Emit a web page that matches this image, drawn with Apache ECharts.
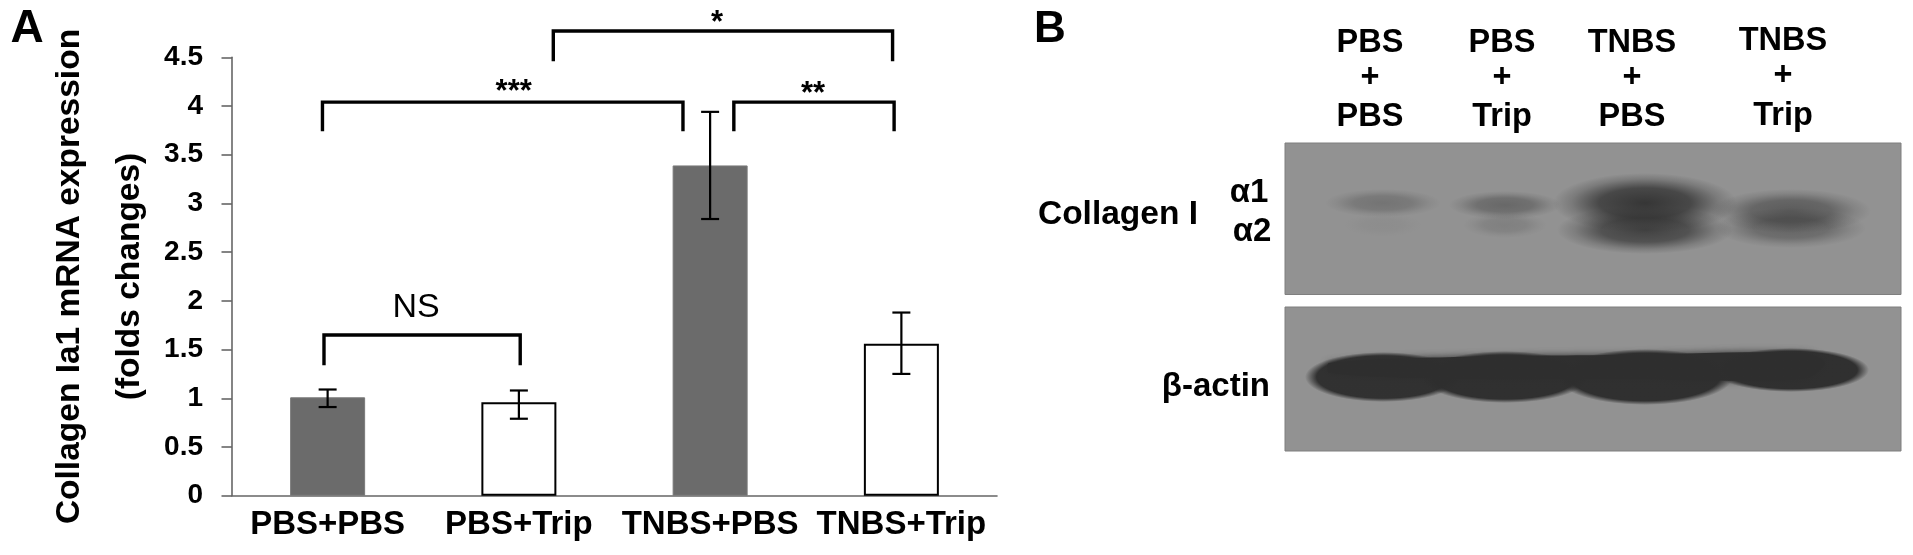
<!DOCTYPE html>
<html>
<head>
<meta charset="utf-8">
<style>
  html, body { margin: 0; padding: 0; background: #fff; }
  #chart { width: 1913px; height: 555px; }
</style>
<script src="https://cdn.jsdelivr.net/npm/echarts@6/dist/echarts.min.js"></script>
</head>
<body>
<div id="chart"></div>
<script>
// Panel A data
const categories = ['PBS+PBS', 'PBS+Trip', 'TNBS+PBS', 'TNBS+Trip'];
const foldChange = [1.01, 0.96, 3.39, 1.56];
const errorHigh = [1.09, 1.08, 3.94, 1.88];
const errorLow = [0.91, 0.79, 2.84, 1.25];
const barFills = ['#6b6b6b', '#ffffff', '#6b6b6b', '#ffffff'];

// Significance brackets, x in category-band units, y in fold change
const bracketLabels = ['NS', '***', '**', '*'];
const bracketStart = [0.481, 0.473, 2.624, 1.68];
const bracketEnd = [1.507, 2.358, 3.462, 3.454];
const bracketTop = [1.65, 4.04, 4.04, 4.77];
const bracketFoot = [1.34, 3.74, 3.74, 4.46];

// Panel B band strength, one per lane
const alpha1Strength = [0.3, 0.42, 0.92, 0.55];
const alpha2Strength = [0.05, 0.18, 0.8, 0.45];
const actinStrength = [0.97, 0.98, 0.98, 0.98];

const laneNames = [['PBS', '+', 'PBS'], ['PBS', '+', 'Trip'], ['TNBS', '+', 'PBS'], ['TNBS', '+', 'Trip']];

const FONT = '"Liberation Sans", Arial, sans-serif';
const chart = echarts.init(document.getElementById('chart'));

function txt(text, x, y, size, align, weight) {
  return {
    type: 'text', x, y,
    style: { text, fill: '#000', fontFamily: FONT, fontSize: size, fontWeight: weight || 'bold', align: align || 'center', verticalAlign: 'middle' }
  };
}

// Error bars sit on the category axis
function renderError(params, api) {
  const i = api.value(0);
  const hi = api.coord([i, api.value(1)]);
  const lo = api.coord([i, api.value(2)]);
  const style = { stroke: '#000', lineWidth: 2.2, fill: 'none' };
  return {
    type: 'group',
    children: [
      { type: 'line', shape: { x1: hi[0], y1: hi[1], x2: lo[0], y2: lo[1] }, style },
      { type: 'line', shape: { x1: hi[0] - 9, y1: hi[1], x2: hi[0] + 9, y2: hi[1] }, style },
      { type: 'line', shape: { x1: lo[0] - 9, y1: lo[1], x2: lo[0] + 9, y2: lo[1] }, style }
    ]
  };
}

function renderBracket(params, api) {
  const a = api.coord([api.value(0), api.value(3)]);
  const b = api.coord([api.value(0), api.value(2)]);
  const c = api.coord([api.value(1), api.value(2)]);
  const d = api.coord([api.value(1), api.value(3)]);
  return {
    type: 'polyline',
    shape: { points: [a, b, c, d] },
    style: { stroke: '#000', lineWidth: 3.4, fill: 'none', lineJoin: 'miter' }
  };
}

// Blot panels: x/y run along the membrane in the hidden axes of the second grid
const blotAreas = [[0, 616, 308, 156.5], [0, 616, 144, 0]];
const laneX = [98, 220, 360, 506];
const alpha1Shape = [[58, 14, 248], [56, 14, 246], [92, 30, 248], [80, 22, 240]];
const alpha2Shape = [[40, 12, 226], [42, 13, 226], [88, 24, 221], [75, 20, 223]];
const actinShape = [[78, 25, 74], [84, 26, 74], [88, 28, 74], [78, 22, 81]];
// top edge of the actin band, which runs flat across the lanes
const actinTopEdge = [[44, 88], [170, 94], [330, 96], [520, 98], [540, 88], [520, 72], [330, 72], [170, 72], [44, 78]];

function renderBlot(params, api) {
  const p0 = api.coord([api.value(0), api.value(2)]);
  const p1 = api.coord([api.value(1), api.value(3)]);
  return {
    type: 'rect',
    shape: { x: p0[0], y: p0[1], width: p1[0] - p0[0], height: p1[1] - p0[1] },
    style: { fill: '#929292', stroke: '#7f7f7f', lineWidth: 1 }
  };
}

function bandColor(a) {
  return 'rgba(46,46,46,' + a + ')';
}

function renderBand(params, api) {
  const c = api.coord([api.value(0), api.value(1)]);
  const a = api.value(4);
  // actin bands are solid with a short soft edge, collagen bands fade out gradually
  const stops = api.value(5)
    ? [{ offset: 0, color: bandColor(a) }, { offset: 0.85, color: bandColor(a) }, { offset: 1, color: bandColor(0) }]
    : [{ offset: 0, color: bandColor(a) }, { offset: 0.5, color: bandColor(a * 0.8) }, { offset: 0.8, color: bandColor(a * 0.25) }, { offset: 1, color: bandColor(0) }];
  return {
    type: 'circle',
    x: c[0], y: c[1], scaleX: api.value(2) / 100, scaleY: api.value(3) / 100,
    shape: { cx: 0, cy: 0, r: 100 },
    style: { fill: new echarts.graphic.RadialGradient(0.5, 0.5, 0.5, stops) }
  };
}

function bandRows(strength, shape, solid) {
  return strength.map((s, i) => [laneX[i], shape[i][2], shape[i][0], shape[i][1], s, solid]);
}

const texts = [
  txt('A', 27, 29, 46),
  txt('B', 1050, 30, 44),
  txt('Collagen I', 1118, 215, 33.5),
  txt('α1', 1249, 193, 33),
  txt('α2', 1252, 232, 33),
  txt('β-actin', 1270, 387, 33, 'right')
];
const laneCentres = [1370, 1502, 1632, 1783];
const lineY = [[43, 78, 117], [43, 78, 117], [43, 78, 117], [41, 76, 116]];
laneNames.forEach((lines, i) => {
  lines.forEach((s, j) => texts.push(txt(s, laneCentres[i], lineY[i][j], 32.5)));
});

chart.setOption({
  animation: false,
  backgroundColor: '#fff',
  textStyle: { fontFamily: FONT },
  grid: [
    { left: 232, top: 57.3, width: 765, height: 438.4 },
    { left: 1285, top: 143, width: 616, height: 308 }
  ],
  xAxis: [
    {
      type: 'category', gridIndex: 0, data: categories,
      axisLine: { lineStyle: { color: '#666', width: 1.6 } },
      axisTick: { length: 9.5, lineStyle: { color: '#666', width: 1.6 } },
      axisLabel: { color: '#000', fontFamily: FONT, fontWeight: 'bold', fontSize: 33, margin: 13, interval: 0 }
    },
    { type: 'value', gridIndex: 0, min: 0, max: 4, show: false },
    { type: 'value', gridIndex: 1, min: 0, max: 616, show: false }
  ],
  yAxis: [
    {
      type: 'value', gridIndex: 0, min: 0, max: 4.5, interval: 0.5,
      name: 'Collagen Ia1 mRNA expression\n(folds changes)',
      nameLocation: 'middle', nameGap: 65,
      nameTextStyle: { color: '#000', fontFamily: FONT, fontWeight: 'bold', fontSize: 33.5, lineHeight: 60 },
      axisLine: { show: true, lineStyle: { color: '#666', width: 1.6 } },
      axisTick: { show: true, length: 10.5, lineStyle: { color: '#666', width: 1.6 } },
      axisLabel: { color: '#000', fontFamily: FONT, fontWeight: 'bold', fontSize: 28, margin: 29 },
      splitLine: { show: false }
    },
    { type: 'value', gridIndex: 1, min: 0, max: 308, show: false }
  ],
  graphic: texts,
  series: [
    {
      type: 'bar', xAxisIndex: 0, yAxisIndex: 0, barWidth: 75,
      data: foldChange.map((v, i) => ({
        value: v,
        itemStyle: { color: barFills[i], borderColor: barFills[i] === '#ffffff' ? '#000' : '#7a7a7a', borderWidth: barFills[i] === '#ffffff' ? 2 : 1 }
      }))
    },
    {
      type: 'custom', xAxisIndex: 0, yAxisIndex: 0, renderItem: renderError, z: 5,
      encode: { x: 0, y: [1, 2] },
      data: categories.map((c, i) => [i, errorHigh[i], errorLow[i]])
    },
    {
      type: 'custom', xAxisIndex: 1, yAxisIndex: 0, renderItem: renderBracket, z: 5, clip: false,
      encode: { x: [0, 1], y: [2, 3] },
      data: bracketStart.map((s, i) => [s, bracketEnd[i], bracketTop[i], bracketFoot[i]])
    },
    {
      type: 'custom', xAxisIndex: 1, yAxisIndex: 0, z: 5, clip: false,
      encode: { x: [0, 1], y: 2 },
      renderItem: (params, api) => {
        const i = params.dataIndex;
        const xm = (api.value(0) + api.value(1)) / 2;
        const c = api.coord([xm, api.value(2)]);
        const isNs = bracketLabels[i] === 'NS';
        return txt(bracketLabels[i], c[0] + [-6, 11, -1, -6][i], c[1] + (isNs ? -27 : [0, -10, -8, -8][i]), isNs ? 34 : 31, 'center', isNs ? 'normal' : 'bold');
      },
      data: bracketStart.map((s, i) => [s, bracketEnd[i], bracketTop[i]])
    },
    {
      type: 'custom', xAxisIndex: 2, yAxisIndex: 1, renderItem: renderBlot, z: 1,
      encode: { x: [0, 1], y: [2, 3] },
      data: blotAreas
    },
    {
      type: 'custom', xAxisIndex: 2, yAxisIndex: 1, z: 2,
      encode: { x: 0, y: 1 },
      renderItem: (params, api) => ({
        type: 'polygon',
        shape: { points: actinTopEdge.map(p => api.coord(p)), smooth: 0.3 },
        style: { fill: '#2f2f2f', shadowBlur: 7, shadowColor: '#2f2f2f' }
      }),
      data: [[actinTopEdge[0][0], actinTopEdge[0][1]]]
    },
    {
      type: 'custom', xAxisIndex: 2, yAxisIndex: 1, renderItem: renderBand, z: 3,
      encode: { x: 0, y: 1 },
      data: [].concat(
        bandRows(alpha2Strength, alpha2Shape, 0),
        bandRows(alpha1Strength, alpha1Shape, 0),
        bandRows(actinStrength, actinShape, 1)
      )
    }
  ]
});
</script>
</body>
</html>
